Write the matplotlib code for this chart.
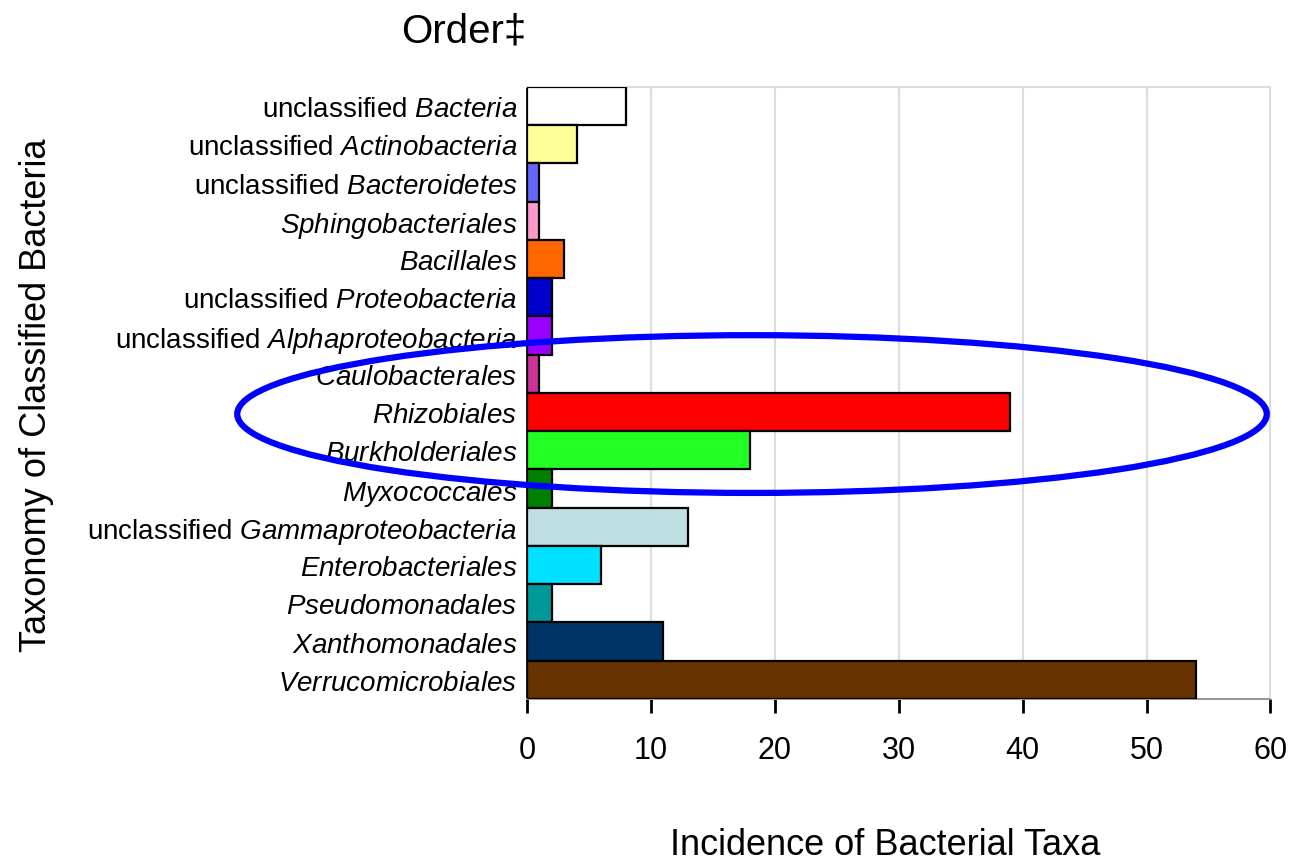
import matplotlib
matplotlib.use('Agg')
import matplotlib.pyplot as plt
from matplotlib.patches import Ellipse

plt.rcParams['font.family'] = ['Liberation Sans', 'DejaVu Sans']
plt.rcParams['mathtext.fontset'] = 'custom'
plt.rcParams['mathtext.rm'] = 'Liberation Sans'
plt.rcParams['mathtext.it'] = 'Liberation Sans:italic'

# top to bottom as in the chart
prefixes = ['unclassified', 'unclassified', 'unclassified', '', '', 'unclassified',
            'unclassified', '', '', '', '', 'unclassified', '', '', '', '']
taxa = ['Bacteria', 'Actinobacteria', 'Bacteroidetes', 'Sphingobacteriales',
        'Bacillales', 'Proteobacteria', 'Alphaproteobacteria', 'Caulobacterales',
        'Rhizobiales', 'Burkholderiales', 'Myxococcales', 'Gammaproteobacteria',
        'Enterobacteriales', 'Pseudomonadales', 'Xanthomonadales', 'Verrucomicrobiales']
counts = [8, 4, 1, 1, 3, 2, 2, 1, 39, 18, 2, 13, 6, 2, 11, 54]
colors = ['#FFFFFF', '#FFFF99', '#6666FF', '#FF99CC', '#FF6600', '#0000CC',
          '#9900FF', '#CC3399', '#FF0000', '#22FF22', '#008000', '#BFDFE2',
          '#00E0FF', '#009999', '#003366', '#663300']
x_ticks = [0, 10, 20, 30, 40, 50, 60]

labels = []
for p, t in zip(prefixes, taxa):
    if p:
        labels.append(p + ' $\\mathit{' + t + '}$')
    else:
        labels.append('$\\mathit{' + t + '}$')

fig = plt.figure(figsize=(12.95, 8.62), dpi=100)
ax = fig.add_axes([0.407, 0.188, 0.574, 0.710])

ypos = list(range(len(taxa)))[::-1]
ax.barh(ypos, counts, height=1.0, color=colors, edgecolor='black', linewidth=1.6, zorder=3)

ax.set_xlim(0, 60)
ax.set_ylim(-0.5, len(taxa) - 0.5)
ax.set_xticks(x_ticks)
ax.set_xticklabels([str(v) for v in x_ticks], fontsize=22)
ax.set_yticks(ypos)
ax.set_yticklabels(labels, fontsize=20)
ax.tick_params(axis='y', length=0, pad=7)
ax.tick_params(axis='x', direction='out', length=10, width=2, pad=16)
ax.grid(axis='x', color='#DDDDDD', linewidth=1.5, zorder=0)

for side in ['top', 'right']:
    ax.spines[side].set_color('#DDDDDD')
    ax.spines[side].set_linewidth(1.5)
ax.spines['bottom'].set_color('#999999')
ax.spines['bottom'].set_linewidth(1.5)
ax.spines['left'].set_color('black')
ax.spines['left'].set_linewidth(2)

ax.set_xlabel('Incidence of Bacterial Taxa', fontsize=26)
ax.xaxis.set_label_coords(0.482, -0.21)
fig.text(0.028, 0.541, 'Taxonomy of Classified Bacteria', rotation=90,
         fontsize=26, ha='center', va='center')
fig.text(0.358, 0.963, 'Order\u2021', fontsize=29, ha='center', va='center')

# highlight ellipse around Rhizobiales / Burkholderiales
ell = Ellipse((0.5807, 0.5185), 0.795, 0.183, angle=0, fill=False,
              edgecolor='#0000FF', linewidth=4.5, transform=fig.transFigure,
              zorder=10)
fig.patches.append(ell)

fig.savefig('out.png', dpi=100)
